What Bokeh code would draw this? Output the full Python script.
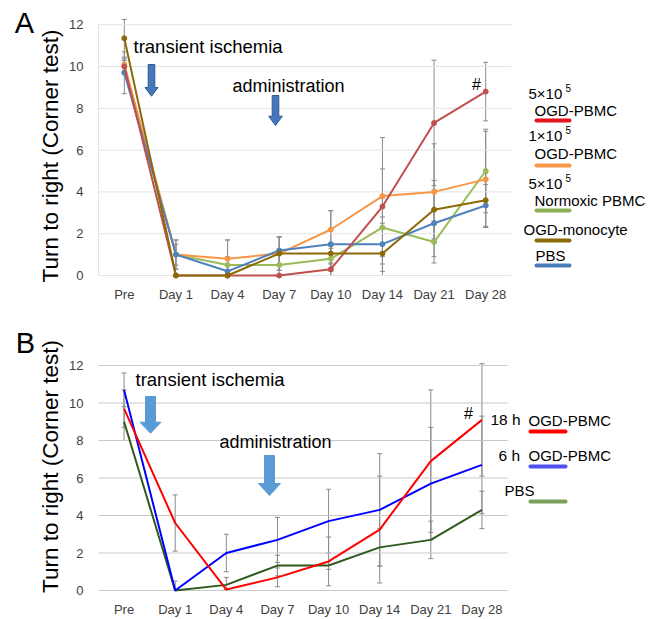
import math
from bokeh.plotting import figure
from bokeh.models import (ColumnDataSource, Whisker, TeeHead, Label,
                          FixedTicker, Range1d)
from bokeh.layouts import column
from bokeh.embed import file_html
from bokeh.resources import INLINE

# ---------------- data ----------------
categories = ["Pre", "Day 1", "Day 4", "Day 7", "Day 10", "Day 14", "Day 21", "Day 28"]
y_ticks = [0, 2, 4, 6, 8, 10, 12]

# Panel A
a_ogd_5e5 = [10.0, 0.0, 0.0, 0.0, 0.3, 3.3, 7.3, 8.8]
a_ogd_5e5_err = [0.3, 0.0, 0.0, 0.0, 0.3, 3.3, 3.0, 1.4]
a_ogd_1e5 = [10.1, 1.0, 0.8, 1.05, 2.2, 3.8, 4.0, 4.6]
a_ogd_1e5_err = [0.3, 0.7, 0.9, 0.8, 0.9, 1.3, 2.3, 2.3]
a_normoxic = [10.0, 1.0, 0.5, 0.5, 0.8, 2.3, 1.6, 5.0]
a_normoxic_err = [0.3, 0.5, 0.4, 0.5, 0.6, 1.4, 1.0, 2.0]
a_monocyte = [11.35, 0.0, 0.0, 1.05, 1.05, 1.05, 3.15, 3.6]
a_monocyte_err = [0.9, 0.0, 0.0, 0.8, 0.5, 0.5, 1.4, 1.3]
a_pbs = [9.7, 1.0, 0.2, 1.2, 1.5, 1.5, 2.5, 3.35]
a_pbs_err = [1.0, 0.7, 1.5, 0.65, 1.6, 1.3, 1.6, 1.0]

# Panel B
b_18h = [9.7, 3.6, 0.05, 0.7, 1.55, 3.25, 6.9, 9.1]
b_18h_err = [1.0, 1.5, 0.0, 0.5, 1.3, 2.85, 3.8, 3.0]
b_6h = [10.7, 0.0, 2.0, 2.7, 3.7, 4.3, 5.7, 6.7]
b_6h_err = [0.9, 0.5, 1.0, 1.2, 1.7, 3.0, 3.0, 2.6]
b_pbs = [9.0, 0.0, 0.3, 1.33, 1.33, 2.3, 2.7, 4.3]
b_pbs_err = [1.0, 0.0, 0.4, 0.55, 0.2, 1.0, 1.0, 1.0]

TXT = "#404040"
FONT = "Liberation Sans"
W = 650


class Panel:
    """One figure whose frame fills the whole canvas; the axes are pinned with
    fixed_location so that texts around the plot area are never clipped."""

    def __init__(self, page_top, page_bottom, left_px, right_px, zero_py, unit_px,
                 grid_color, x_standoff):
        self.left_px, self.right_px = left_px, right_px
        self.step = (right_px - left_px) / len(categories)
        self.zero_py, self.unit_px = zero_py, unit_px
        self.top = page_top
        p = figure(width=W, height=page_bottom - page_top,
                   x_range=Range1d(self.fx(0), self.fx(W)),
                   y_range=Range1d(self.fy(page_bottom), self.fy(page_top)),
                   output_backend="svg", toolbar_location=None,
                   min_border_left=0, min_border_right=0, min_border_top=0,
                   min_border_bottom=0)
        p.outline_line_color = None
        p.background_fill_color = "white"
        p.border_fill_color = "white"
        p.grid.visible = False
        p.yaxis.ticker = FixedTicker(ticks=y_ticks)
        p.xaxis.ticker = FixedTicker(ticks=list(range(len(categories))))
        p.xaxis.major_label_overrides = {i: c for i, c in enumerate(categories)}
        p.yaxis.fixed_location = -0.5
        p.xaxis.fixed_location = 0
        for ax in (p.xaxis[0], p.yaxis[0]):
            ax.axis_line_color = None
            ax.major_tick_line_color = None
            ax.minor_tick_line_color = None
            ax.major_tick_out = 0
            ax.major_tick_in = 0
            ax.minor_tick_out = 0
            ax.major_label_text_font = FONT
            ax.major_label_text_font_size = "13px"
            ax.major_label_text_color = TXT
        p.yaxis.major_label_standoff = 15
        p.xaxis.major_label_standoff = x_standoff
        # horizontal grid lines at the y ticks, limited to the plot area
        n = len(y_ticks)
        p.segment(x0=[-0.5] * n, x1=[len(categories) - 0.5] * n, y0=y_ticks, y1=y_ticks,
                  line_color=grid_color, line_width=1)
        self.p = p

    # page pixel -> data coordinate (for placing annotations only)
    def fx(self, px):
        return (px - self.left_px) / self.step - 0.5

    def fy(self, py):
        return (self.zero_py - py) / self.unit_px

    def series(self, vals, errs, color, width, markers):
        x = list(range(len(categories)))
        up = [v + e for v, e in zip(vals, errs)]
        lo = [max(0.0, v - e) for v, e in zip(vals, errs)]
        src = ColumnDataSource(dict(x=x, y=vals, upper=up, lower=lo))
        w = Whisker(base="x", upper="upper", lower="lower", source=src,
                    dimension="height", line_color="#8a8a8a", line_width=1,
                    upper_head=TeeHead(size=5, line_color="#8a8a8a", line_width=1),
                    lower_head=TeeHead(size=5, line_color="#8a8a8a", line_width=1))
        self.p.add_layout(w)
        self.p.line("x", "y", source=src, line_color=color, line_width=width)
        if markers:
            self.p.scatter("x", "y", source=src, size=5, fill_color=color,
                           line_color=color)

    def arrow(self, cx, top, head_start, tip, shaft_hw, head_hw, fill, line):
        px = [cx - shaft_hw, cx + shaft_hw, cx + shaft_hw, cx + head_hw, cx,
              cx - head_hw, cx - shaft_hw]
        py = [top, top, head_start, head_start, tip, head_start, head_start]
        self.p.patch([self.fx(v) for v in px], [self.fy(v) for v in py],
                     fill_color=fill, line_color=line, line_width=1)

    def text(self, px, py, text, size, align="left", color="black", angle=0.0):
        self.p.add_layout(Label(x=self.fx(px), y=self.fy(py), text=text,
                                text_font=FONT, text_font_size=size,
                                text_align=align, text_baseline="middle",
                                text_color=color, angle=angle))

    def key(self, x0, x1, py, color):
        self.p.line([self.fx(x0), self.fx(x1)], [self.fy(py), self.fy(py)],
                    line_color=color, line_width=4, line_cap="round")


# ================= Panel A (page y 0..306) =================
A = Panel(0, 306, 98, 511, 275, 20.9, "#e3e3e3", 11)
A.p.segment(x0=[-0.5], x1=[-0.5], y0=[0], y1=[12], line_color="#e3e3e3", line_width=1)

A.series(a_normoxic, a_normoxic_err, "#9bbb59", 2, True)
A.series(a_ogd_1e5, a_ogd_1e5_err, "#f79646", 2, True)
A.series(a_pbs, a_pbs_err, "#4f81bd", 2, True)
A.series(a_ogd_5e5, a_ogd_5e5_err, "#c0504d", 2, True)
A.series(a_monocyte, a_monocyte_err, "#8c6a08", 2, True)

A.arrow(151, 64, 87, 95.7, 3.3, 6.5, "#4677bb", "#2f5a94")
A.arrow(275, 95, 115.7, 125, 3.3, 6.8, "#4677bb", "#2f5a94")
A.text(133, 45.7, "transient ischemia", "18.5px")
A.text(232, 85, "administration", "18px")
A.text(476, 84, "#", "16px", align="center")
A.text(24, 22, "A", "29px", align="center")
A.text(50, 155.5, "Turn to right (Corner test)", "22.5px", align="center",
       angle=math.pi / 2)

A.text(528, 93, "5×10", "15px")
A.text(565, 87, "5", "10px")
A.text(534, 109.5, "OGD-PBMC", "15px")
A.key(536, 569, 120, "#e3141c")
A.text(528, 135, "1×10", "15px")
A.text(565, 129, "5", "10px")
A.text(534, 153, "OGD-PBMC", "15px")
A.key(536, 569, 165, "#f79646")
A.text(528, 183, "5×10", "15px")
A.text(565, 177, "5", "10px")
A.text(534, 199.5, "Normoxic PBMC", "15px")
A.key(536, 569, 210, "#8db255")
A.text(523, 229, "OGD-monocyte", "15px")
A.key(536, 569, 240, "#8c6a08")
A.text(535, 255, "PBS", "15px")
A.key(536, 569, 265, "#4a7ebb")

# ================= Panel B (page y 306..619) =================
B = Panel(306, 619, 98, 507, 590, 18.75, "#c8c8c8", 11)

B.series(b_pbs, b_pbs_err, "#2f5a1c", 2, False)
B.series(b_6h, b_6h_err, "#0000ff", 2, False)
B.series(b_18h, b_18h_err, "#ff0000", 2, False)

B.arrow(150, 396, 421.7, 432.7, 5, 10.5, "#5b9bd5", "#5b9bd5")
B.arrow(269, 455, 483, 495, 5, 11, "#5b9bd5", "#5b9bd5")
B.text(135, 379, "transient ischemia", "18.5px")
B.text(219, 441, "administration", "18px")
B.text(468, 413, "#", "16px", align="center")
B.text(25, 342.5, "B", "29px", align="center")
B.text(50, 466, "Turn to right (Corner test)", "22.5px", align="center",
       angle=math.pi / 2)

B.text(490, 419, "18 h", "15.5px")
B.text(528, 420, "OGD-PBMC", "15px")
B.key(530, 565, 431, "#ff0000")
B.text(498, 455, "6 h", "15.5px")
B.text(528, 455, "OGD-PBMC", "15px")
B.key(530, 565, 466, "#5050f0")
B.text(504, 490, "PBS", "15px")
B.key(530, 565, 501, "#78a05a")

layout = column(A.p, B.p, spacing=0)
open("out.html", "w").write(file_html(layout, INLINE))
